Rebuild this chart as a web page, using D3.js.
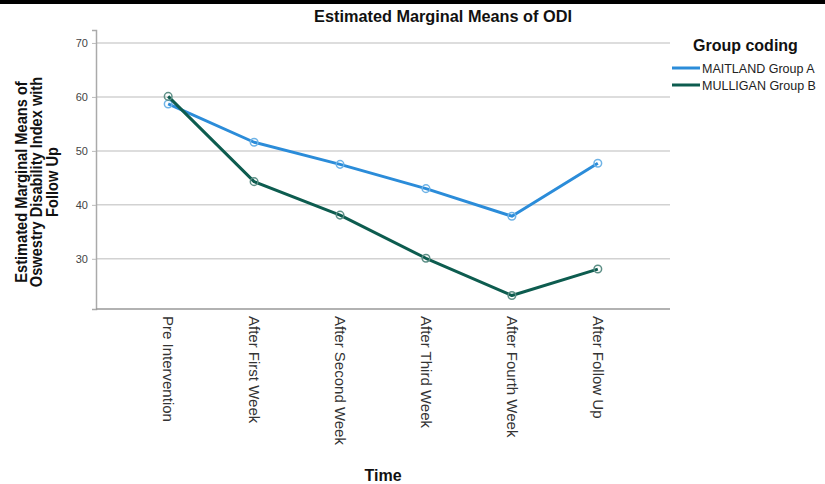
<!DOCTYPE html>
<html>
<head>
<meta charset="utf-8">
<script src="https://cdn.jsdelivr.net/npm/d3@7"></script>
<style>
  html, body { margin: 0; padding: 0; background: #fff; }
  svg { display: block; }
</style>
</head>
<body>
<svg id="chart" width="825" height="484"></svg>
<script>
// Time points on the x axis
const timePoints = ["Pre Intervention", "After First Week", "After Second Week",
                    "After Third Week", "After Fourth Week", "After Follow Up"];
// Estimated marginal means of ODI per group
const maitlandA = [58.7, 51.6, 47.5, 43.0, 37.9, 47.7];
const mulliganB = [60.1, 44.3, 38.1, 30.1, 23.2, 28.1];
const seriesNames = ["MAITLAND Group A", "MULLIGAN Group B"];
const yTicks = [30, 40, 50, 60, 70];

const series = [
  { name: seriesNames[0], values: maitlandA, color: "#2b8cd9", marker: "#6fb3e6" },
  { name: seriesNames[1], values: mulliganB, color: "#0d5c4f", marker: "#5d8f86" }
];

const svg = d3.select("#chart");
const plotLeft = 96, plotRight = 670, plotTop = 30, plotBottom = 309;
const sans = "Liberation Sans, Arial, sans-serif";

// top rule
svg.append("rect").attr("x", 0).attr("y", 0).attr("width", 825).attr("height", 4).attr("fill", "#000");

const x = d3.scalePoint().domain(timePoints).range([plotLeft, plotRight]).padding(0.84);
const y = d3.scaleLinear().domain([20.7, 72.4]).range([plotBottom, plotTop]);

// gridlines
svg.append("g").selectAll("line").data(yTicks).join("line")
  .attr("x1", plotLeft).attr("x2", plotRight)
  .attr("y1", d => y(d)).attr("y2", d => y(d))
  .attr("stroke", "#d2d2d2").attr("stroke-width", 1.5);

// y axis
const yAxis = svg.append("g").attr("transform", `translate(${plotLeft},0)`)
  .call(d3.axisLeft(y).tickValues(yTicks).tickSize(4).tickPadding(4));
yAxis.select(".domain").attr("stroke", "#aaa").attr("stroke-width", 1.5);
yAxis.selectAll(".tick line").attr("stroke", "#bbb");
yAxis.selectAll(".tick text").attr("fill", "#444").style("font-family", sans).style("font-size", "11px");

// x axis
const xAxis = svg.append("g").attr("transform", `translate(0,${plotBottom})`)
  .call(d3.axisBottom(x).tickSize(0).tickSizeOuter(0));
xAxis.select(".domain").attr("stroke", "#999").attr("stroke-width", 1.5)
  .attr("d", `M${plotLeft},0H${plotRight}`);
xAxis.selectAll(".tick text")
  .attr("transform", "rotate(90)")
  .attr("x", 7).attr("y", 0).attr("dy", "0.35em")
  .attr("text-anchor", "start")
  .attr("fill", "#333")
  .style("font-family", sans).style("font-size", "15px");

// lines and markers
const line = d3.line().x((d, i) => x(timePoints[i])).y(d => y(d));
series.forEach(s => {
  svg.append("path").datum(s.values)
    .attr("d", line).attr("fill", "none")
    .attr("stroke", s.color).attr("stroke-width", 3)
    .attr("stroke-linejoin", "round");
  svg.append("g").selectAll("circle").data(s.values).join("circle")
    .attr("cx", (d, i) => x(timePoints[i])).attr("cy", d => y(d))
    .attr("r", 3.8).attr("fill", "none")
    .attr("stroke", s.marker).attr("stroke-width", 1.5);
});

// title
svg.append("text").attr("x", 443).attr("y", 22).attr("text-anchor", "middle")
  .style("font-family", sans).style("font-size", "16.3px")
  .style("font-weight", "bold").attr("fill", "#111")
  .text("Estimated Marginal Means of ODI");

// y axis title (condensed bold, three lines)
const yTitle = svg.append("text")
  .attr("transform", `translate(0,182) rotate(-90) scale(0.86,1)`)
  .attr("text-anchor", "middle")
  .style("font-family", sans)
  .style("font-size", "17px").style("font-weight", "bold").attr("fill", "#111");
["Estimated Marginal Means of", "Oswestry Disability Index with", "Follow Up"].forEach((t, i) => {
  yTitle.append("tspan").attr("x", 0).attr("y", 27 + i * 15.5).text(t);
});

// x axis title
svg.append("text").attr("x", 383).attr("y", 481).attr("text-anchor", "middle")
  .style("font-family", sans).style("font-size", "16px")
  .style("font-weight", "bold").attr("fill", "#111").text("Time");

// legend
const legend = svg.append("g");
legend.append("text").attr("x", 693).attr("y", 51)
  .style("font-family", sans).style("font-size", "16px")
  .style("font-weight", "bold").attr("fill", "#111").text("Group coding");
series.forEach((s, i) => {
  const yy = 68 + i * 17;
  legend.append("line").attr("x1", 672).attr("x2", 700).attr("y1", yy).attr("y2", yy)
    .attr("stroke", s.color).attr("stroke-width", 3);
  legend.append("text").attr("x", 702).attr("y", yy + 4.5)
    .style("font-family", sans).style("font-size", "12.5px")
    .attr("fill", "#222").text(s.name);
});
</script>
</body>
</html>
